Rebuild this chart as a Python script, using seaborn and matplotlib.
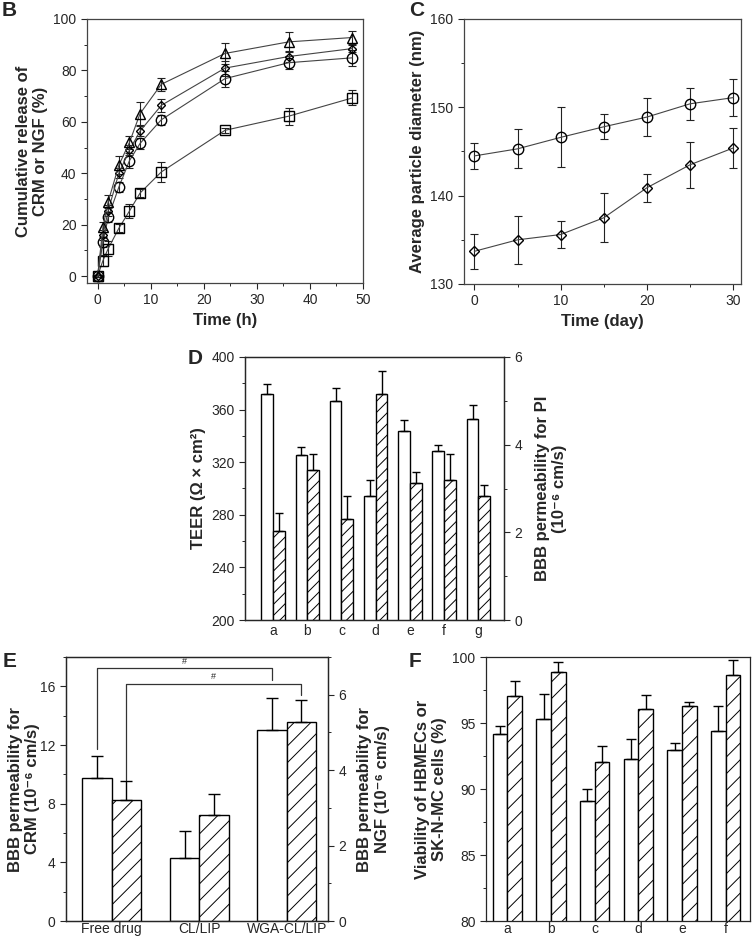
import numpy as np
import pandas as pd
import matplotlib.pyplot as plt
import seaborn as sns
from matplotlib.ticker import AutoMinorLocator, MultipleLocator

# ---- B: cumulative release (%) ----
release_time = [0, 1, 2, 4, 6, 8, 12, 24, 36, 48]
release_square = [0, 6.0, 10.7, 18.6, 25.3, 32.3, 40.5, 56.7, 62.2, 69.3]
release_square_err = [0.5, 2.0, 3.0, 1.5, 2.7, 1.5, 4.0, 1.0, 3.3, 2.9]
release_circle = [0, 13.2, 22.9, 34.6, 44.9, 51.6, 60.8, 76.8, 83.0, 84.9]
release_circle_err = [0.5, 2.0, 2.0, 2.0, 3.0, 2.0, 2.0, 3.1, 2.5, 3.1]
release_diamond = [0, 16.0, 25.5, 40.0, 49.0, 56.4, 66.4, 80.9, 85.4, 88.5]
release_diamond_err = [0.5, 2.0, 2.0, 2.0, 2.0, 2.0, 2.6, 2.9, 2.0, 1.5]
release_triangle = [0, 19.0, 29.0, 43.1, 52.0, 63.2, 74.6, 86.6, 91.1, 92.8]
release_triangle_err = [0.5, 2.0, 2.6, 3.5, 2.6, 4.5, 2.6, 4.0, 3.9, 2.6]

# ---- C: particle diameter (nm) ----
size_day = [0, 5, 10, 15, 20, 25, 30]
size_circle = [144.5, 145.3, 146.6, 147.8, 148.9, 150.4, 151.1]
size_circle_err = [1.5, 2.2, 3.4, 1.4, 2.2, 1.8, 2.1]
size_diamond = [133.7, 135.0, 135.6, 137.5, 140.9, 143.5, 145.4]
size_diamond_err = [2.0, 2.7, 1.5, 2.8, 1.6, 2.6, 2.3]

# ---- D: TEER and PI permeability ----
d_groups = ["a", "b", "c", "d", "e", "f", "g"]
teer = [371.7, 325.4, 366.6, 294.3, 343.4, 328.3, 353.2]
teer_err = [8.0, 6.3, 10.0, 12.0, 8.6, 4.5, 10.0]
pi_perm = [2.03, 3.42, 2.30, 5.15, 3.13, 3.19, 2.83]
pi_perm_err = [0.40, 0.37, 0.53, 0.53, 0.25, 0.60, 0.24]

# ---- E: CRM / NGF permeability ----
e_groups = ["Free drug", "CL/LIP", "WGA-CL/LIP"]
crm_perm = [9.78, 4.27, 13.05]
crm_perm_err = [1.45, 1.90, 2.15]
ngf_perm = [3.22, 2.81, 5.28]
ngf_perm_err = [0.50, 0.56, 0.59]

# ---- F: cell viability (%) ----
f_groups = ["a", "b", "c", "d", "e", "f"]
viab_hbmec = [94.16, 95.27, 89.10, 92.26, 92.94, 94.43]
viab_hbmec_err = [0.65, 1.90, 0.90, 1.50, 0.58, 1.85]
viab_sknmc = [97.01, 98.83, 92.06, 96.05, 96.30, 98.66]
viab_sknmc_err = [1.20, 0.78, 1.20, 1.10, 0.28, 1.10]

sns.set_style("ticks")
plt.rcParams["font.family"] = ["Liberation Sans", "DejaVu Sans"]
plt.rcParams["hatch.linewidth"] = 0.7
plt.rcParams["axes.linewidth"] = 0.9

LABEL = dict(fontsize=12, fontweight="bold")
W, H = 754, 938


def add_axes_px(fig, left, top, right, bottom):
    return fig.add_axes([left / W, 1 - bottom / H, (right - left) / W, (bottom - top) / H])


def style_ticks(ax, axis="both"):
    ax.tick_params(axis=axis, which="major", direction="out", length=4, width=0.8, labelsize=10)
    ax.tick_params(axis=axis, which="minor", direction="out", length=2.5, width=0.7)


def line_panel(ax, x, series):
    for y, err, marker, ms in series:
        ax.errorbar(x, y, yerr=err, fmt="none", ecolor="#222222", elinewidth=0.8,
                    capsize=2.8, capthick=0.8, zorder=2)
        sns.lineplot(x=x, y=y, ax=ax, color="#444444", linewidth=0.8, marker=marker,
                     markersize=ms, markerfacecolor="none", markeredgecolor="black",
                     markeredgewidth=1.0, zorder=3)


def bar_pair(ax_left, ax_right, groups, v1, e1, v2, e2, hatch="//", capsize=3.2, width=0.68):
    levels = ["open", "hatched"]
    df1 = pd.DataFrame({"group": groups, "value": v1, "kind": "open"})
    df2 = pd.DataFrame({"group": groups, "value": v2, "kind": "hatched"})
    for target, df, errs in [(ax_left, df1, e1), (ax_right, df2, e2)]:
        n_before = len(target.patches)
        sns.barplot(data=df, x="group", y="value", hue="kind", hue_order=levels,
                    order=groups, palette=["white", "white"], saturation=1, width=width,
                    dodge=True, edgecolor="black", linewidth=1.0, errorbar=None,
                    legend=False, ax=target)
        bars = target.patches[n_before:]
        for p, err in zip(bars, errs):
            if df is df2:
                p.set_hatch(hatch)
            cx = p.get_x() + p.get_width() / 2
            target.errorbar([cx], [p.get_height()], yerr=[[0], [err]], fmt="none",
                            ecolor="black", elinewidth=1.0, capsize=capsize, capthick=1.0)
    return ax_left, ax_right


fig = plt.figure(figsize=(W / 100, H / 100), dpi=100)

# ---------------- B ----------------
axB = add_axes_px(fig, 87, 19, 363, 283)
line_panel(axB, release_time, [
    (release_square, release_square_err, "s", 7.5),
    (release_circle, release_circle_err, "o", 7.5),
    (release_diamond, release_diamond_err, "D", 4.0),
    (release_triangle, release_triangle_err, "^", 7.5),
])
axB.set_xlim(-2, 50)
axB.set_ylim(-2.7, 100)
axB.xaxis.set_major_locator(MultipleLocator(10))
axB.yaxis.set_major_locator(MultipleLocator(20))
axB.xaxis.set_minor_locator(AutoMinorLocator(2))
axB.yaxis.set_minor_locator(AutoMinorLocator(2))
style_ticks(axB)
axB.set_xlabel("Time (h)", **LABEL)
axB.set_ylabel("Cumulative release of\nCRM or NGF (%)", **LABEL)
for s in axB.spines.values():
    s.set_color("#444444")

# ---------------- C ----------------
axC = add_axes_px(fig, 464, 19, 741, 284)
line_panel(axC, size_day, [
    (size_circle, size_circle_err, "o", 7.5),
    (size_diamond, size_diamond_err, "D", 5.0),
])
axC.set_xlim(-1.2, 30.9)
axC.set_ylim(130, 160)
axC.xaxis.set_major_locator(MultipleLocator(10))
axC.yaxis.set_major_locator(MultipleLocator(10))
axC.xaxis.set_minor_locator(AutoMinorLocator(2))
axC.yaxis.set_minor_locator(AutoMinorLocator(2))
style_ticks(axC)
axC.set_xlabel("Time (day)", **LABEL)
axC.set_ylabel("Average particle diameter (nm)", **LABEL)
for s in axC.spines.values():
    s.set_color("#444444")

# ---------------- D ----------------
axD = add_axes_px(fig, 245, 357, 504, 620)
axD2 = axD.twinx()
bar_pair(axD, axD2, d_groups, teer, teer_err, pi_perm, pi_perm_err, hatch="///", capsize=3.2)
axD.set_xlim(-0.82, 6.75)
axD.set_ylim(200, 400)
axD2.set_ylim(0, 6)
axD.yaxis.set_major_locator(MultipleLocator(40))
axD.yaxis.set_minor_locator(AutoMinorLocator(2))
axD2.yaxis.set_major_locator(MultipleLocator(2))
axD2.yaxis.set_minor_locator(AutoMinorLocator(2))
style_ticks(axD, "y")
style_ticks(axD2, "y")
axD.tick_params(axis="x", length=0, labelsize=10, pad=3)
axD.set_xlabel("")
axD.set_ylabel("TEER (Ω × cm²)", **LABEL)
axD2.set_ylabel("BBB permeability for PI\n(10⁻⁶ cm/s)", labelpad=9, **LABEL)

# ---------------- E ----------------
axE = add_axes_px(fig, 66, 657, 328, 921)
axE2 = axE.twinx()
bar_pair(axE, axE2, e_groups, crm_perm, crm_perm_err, ngf_perm, ngf_perm_err,
         hatch="//", capsize=4.2, width=0.67)
axE.set_xlim(-0.52, 2.47)
axE.set_ylim(0, 18)
axE2.set_ylim(0, 7)
axE.yaxis.set_major_locator(MultipleLocator(4))
axE.yaxis.set_minor_locator(AutoMinorLocator(2))
axE2.yaxis.set_major_locator(MultipleLocator(2))
axE2.yaxis.set_minor_locator(AutoMinorLocator(2))
style_ticks(axE, "y")
style_ticks(axE2, "y")
axE.tick_params(axis="x", length=0, labelsize=10, pad=1)
axE.set_xlabel("")
axE.set_ylabel("BBB permeability for\nCRM (10⁻⁶ cm/s)", labelpad=0, **LABEL)
axE2.set_ylabel("BBB permeability for\nNGF (10⁻⁶ cm/s)", labelpad=8, **LABEL)

# significance brackets (# between free drug and WGA-CL/LIP)
e_open = [p.get_x() + p.get_width() / 2 for p in axE.patches[:3]]
e_hatch = [p.get_x() + p.get_width() / 2 for p in axE2.patches[:3]]
brackets = [
    (e_open[0], e_open[2], 11.75, 16.4, 17.25),
    (e_hatch[0], e_hatch[2], 9.6, 15.38, 16.18),
]
for x0, x1, y0, y1, top in brackets:
    axE.plot([x0, x0, x1, x1], [y0, top, top, y1], color="#333333", lw=0.9, clip_on=False)
    axE.text((x0 + x1) / 2, top + 0.15, "#", ha="center", va="bottom", fontsize=6.5)

# ---------------- F ----------------
axF = add_axes_px(fig, 486, 657, 750, 921)
bar_pair(axF, axF, f_groups, viab_hbmec, viab_hbmec_err, viab_sknmc, viab_sknmc_err,
         hatch="//", capsize=3.3, width=0.67)
axF.set_xlim(-0.49, 5.56)
axF.set_ylim(80, 100)
axF.yaxis.set_major_locator(MultipleLocator(5))
axF.yaxis.set_minor_locator(AutoMinorLocator(2))
style_ticks(axF, "y")
axF.tick_params(axis="x", length=0, labelsize=10, pad=1)
axF.set_xlabel("")
axF.set_ylabel("Viability of HBMECs or\nSK-N-MC cells (%)", **LABEL)

# panel letters
for letter, px, py in [("B", 2, 16), ("C", 409, 16), ("D", 188, 364), ("E", 3, 667), ("F", 409, 667)]:
    fig.text(px / W, 1 - py / H, letter, fontsize=15, fontweight="bold", ha="left", va="baseline")

fig.savefig("out.png", dpi=100)
